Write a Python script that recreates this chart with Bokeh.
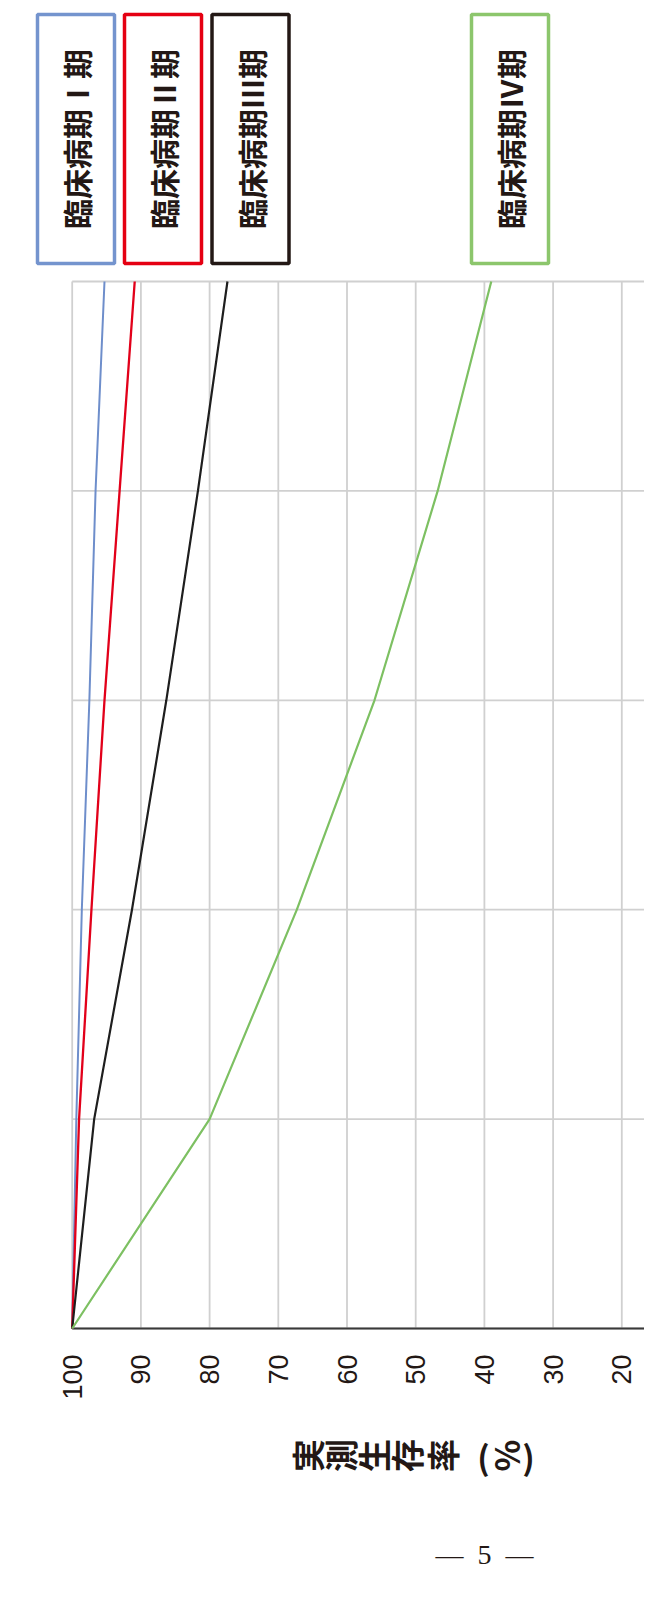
import math
from bokeh.plotting import figure
from bokeh.models import Range1d
from bokeh.core.properties import value
from bokeh.embed import file_html
from bokeh.resources import INLINE

# ---------------- data ----------------
years = [0, 1, 2, 3, 4, 5]
stage1 = [100, 99.4, 98.6, 97.5, 96.6, 95.3]
stage2 = [100, 99.0, 97.2, 95.3, 93.1, 90.9]
stage3 = [100, 96.8, 91.3, 86.3, 81.7, 77.4]
stage4 = [100, 80.0, 67.3, 56.0, 46.8, 39.0]
series_labels = ["臨床病期Ⅰ期", "臨床病期Ⅱ期", "臨床病期Ⅲ期", "臨床病期Ⅳ期"]
pct_ticks = [100, 90, 80, 70, 60, 50, 40, 30, 20]
axis_title_chars = ["実", "測", "生", "存", "率", "(", "%", ")"]
page_label = "—\u20025\u2002—"

# ---------------- styles / layout ----------------
line_colors = ["#6E8ECB", "#E2001A", "#1E1E1E", "#7DC062"]
box_colors = ["#7494CE", "#E50012", "#231815", "#8CC66C"]
line_widths = [2, 2.3, 2.2, 2.2]
grid_color = "#D0D0D0"
text_color = "#231815"

ORIGIN = 0       # page offset of the figure
FIG_W, FIG_H = 644, 1597
X100 = 71.7      # page x of 100 %
PX_PCT = 6.87    # px per 1 %
Y0 = 1328.0      # page y of year 0
PX_YEAR = 209.4  # px per year


def px_to_pct(X):
    return 100 - (X - X100) / PX_PCT


def py_to_year(Y):
    return (Y0 - Y) / PX_YEAR


x_left = px_to_pct(ORIGIN)
x_right = px_to_pct(ORIGIN + FIG_W)
y_bottom = py_to_year(ORIGIN + FIG_H)
y_top = py_to_year(ORIGIN)

p = figure(width=FIG_W, height=FIG_H,
           x_range=Range1d(x_left, x_right), y_range=Range1d(y_bottom, y_top),
           output_backend="svg", toolbar_location=None,
           x_axis_location=None, y_axis_location=None,
           min_border=0, outline_line_color=None,
           background_fill_color="white", border_fill_color="white")
p.xgrid.visible = False
p.ygrid.visible = False

# grid lines (survival ticks vertical, years horizontal)
p.segment(x0=pct_ticks, y0=[years[0]] * len(pct_ticks),
          x1=pct_ticks, y1=[years[-1]] * len(pct_ticks),
          line_color=grid_color, line_width=1.8)
p.segment(x0=[pct_ticks[0]] * len(years), y0=years,
          x1=[x_right] * len(years), y1=years,
          line_color=grid_color, line_width=1.8)

# axis line at year 0
p.segment(x0=[pct_ticks[0]], y0=[years[0]], x1=[x_right], y1=[years[0]],
          line_color="#3A3A3A", line_width=2)

# data lines
for vals, c, w in zip([stage1, stage2, stage3, stage4], line_colors, line_widths):
    p.line(x=vals, y=years, line_color=c, line_width=w)

# tick labels (rotated)
p.text(x=pct_ticks, y=[py_to_year(1354)] * len(pct_ticks),
       text=[str(t) for t in pct_ticks], angle=math.pi / 2,
       text_align="right", text_baseline="middle",
       text_font=value("Liberation Sans"), text_font_size="27px",
       text_color=text_color)

# axis title, glyph by glyph (rotated CJK)
title_x_px = [306, 339, 372, 405, 441, 483, 505, 528]
title_angles = [math.pi / 2 if ch not in "()" else 0 for ch in axis_title_chars]
p.text(x=[px_to_pct(X) for X in title_x_px],
       y=[py_to_year(1455)] * len(axis_title_chars),
       text=axis_title_chars, angle=title_angles,
       text_align="center", text_baseline="middle",
       text_font=value("Noto Sans CJK JP"), text_font_size="33px",
       text_font_style="bold", text_color=text_color)

# legend boxes with stage labels
box_x_px = [75.5, 162.5, 250.0, 509.5]
box_y_px = 138.5
p.rect(x=[px_to_pct(X) for X in box_x_px], y=[py_to_year(box_y_px)] * 4,
       width=77, height=249, width_units="screen", height_units="screen",
       fill_color="white", line_color=box_colors, line_width=3.5)
p.text(x=[px_to_pct(X) for X in box_x_px], y=[py_to_year(box_y_px)] * 4,
       text=series_labels, angle=math.pi / 2,
       text_align="center", text_baseline="middle",
       text_font=value("Noto Sans CJK JP"), text_font_size="30px",
       text_font_style="bold", text_color=text_color)

# page number
p.text(x=[px_to_pct(484)], y=[py_to_year(1554)], text=[page_label],
       text_align="center", text_baseline="middle",
       text_font=value("Liberation Serif"), text_font_size="28px",
       text_color=text_color)

open("out.html", "w").write(file_html(p, INLINE))
